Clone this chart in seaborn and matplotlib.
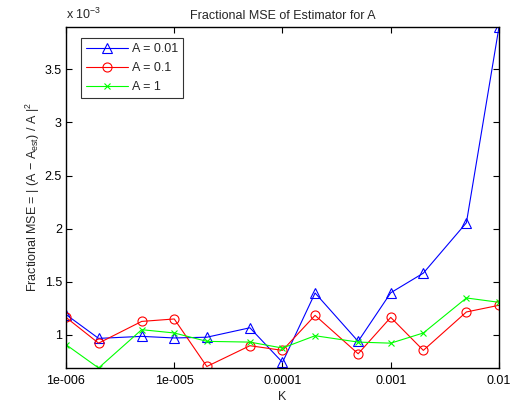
import numpy as np
import matplotlib
matplotlib.use("Agg")
import matplotlib.pyplot as plt
import seaborn as sns

# K values (log spaced) and fractional MSE, in units of 1e-3
K = [1e-6, 2e-6, 5e-6, 1e-5, 2e-5, 5e-5, 1e-4, 2e-4, 5e-4, 1e-3, 2e-3, 5e-3, 1e-2]
mse_a001 = [1.19, 0.965, 0.984, 0.969, 0.976, 1.065, 0.739, 1.393, 0.937, 1.395, 1.58, 2.055, 3.90]
mse_a01 = [1.163, 0.92, 1.125, 1.148, 0.70, 0.896, 0.852, 1.182, 0.82, 1.163, 0.852, 1.214, 1.277]
mse_a1 = [0.906, 0.686, 1.047, 1.016, 0.937, 0.93, 0.874, 0.99, 0.93, 0.92, 1.016, 1.346, 1.305]

xticks = [1e-6, 1e-5, 1e-4, 1e-3, 1e-2]
xticklabels = ["1e-006", "1e-005", "0.0001", "0.001", "0.01"]
yticks = [1, 1.5, 2, 2.5, 3, 3.5]
yticklabels = ["1", "1.5", "2", "2.5", "3", "3.5"]

sns.set_style("ticks")
plt.rcParams['font.family'] = ['Liberation Sans', 'DejaVu Sans']
plt.rcParams['mathtext.fontset'] = 'custom'
plt.rcParams['mathtext.rm'] = 'Liberation Sans'
plt.rcParams['mathtext.it'] = 'Liberation Sans'
fs = 9

fig = plt.figure(figsize=(5.14, 4.05), dpi=100)
ax = fig.add_axes([0.1284, 0.0914, 0.8424, 0.8419])

sns.lineplot(x=K, y=mse_a001, ax=ax, color=(0, 0, 1), lw=0.8, marker='^', ms=6.5,
             mfc='none', mec=(0, 0, 1), mew=0.8, label='A = 0.01')
sns.lineplot(x=K, y=mse_a01, ax=ax, color=(1, 0, 0), lw=0.8, marker='o', ms=6.5,
             mfc='none', mec=(1, 0, 0), mew=0.8, label='A = 0.1')
sns.lineplot(x=K, y=mse_a1, ax=ax, color=(0, 1, 0), lw=0.8, marker='x', ms=4,
             mec=(0, 1, 0), mew=0.8, label='A = 1')

ax.set_xscale('log')
ax.set_xlim(1e-6, 1e-2)
ax.set_ylim(min(mse_a1), max(mse_a001))
ax.set_xticks(xticks)
ax.set_xticklabels(xticklabels)
ax.minorticks_off()
ax.set_yticks(yticks)
ax.set_yticklabels(yticklabels)
ax.tick_params(direction='in', length=4, width=0.8, top=True, right=True,
               labelsize=fs, colors='black')
ax.tick_params(axis='x', pad=5)
ax.tick_params(axis='y', pad=3)
for s in ax.spines.values():
    s.set_visible(True)
    s.set_linewidth(1.0)
    s.set_color('black')

ax.set_xlabel('K', fontsize=fs, labelpad=3)
ax.set_ylabel(r'Fractional MSE = | (A $-$ A$_{\mathrm{est}}$) / A |$^{2}$', fontsize=fs, labelpad=2)
ax.set_title('Fractional MSE of Estimator for A', fontsize=fs, pad=6)
ax.text(0, 1.015, r'x 10$^{-3}$', transform=ax.transAxes, fontsize=fs, ha='left', va='bottom')

leg = ax.legend(loc='upper left', fontsize=fs, frameon=True, fancybox=False,
                edgecolor='black', borderpad=0.4, handlelength=3.4, labelspacing=0.55,
                borderaxespad=0.9, handletextpad=0.3, bbox_to_anchor=(0.008, 1.0))
leg.get_frame().set_linewidth(0.8)

fig.savefig('out.png', dpi=100)
